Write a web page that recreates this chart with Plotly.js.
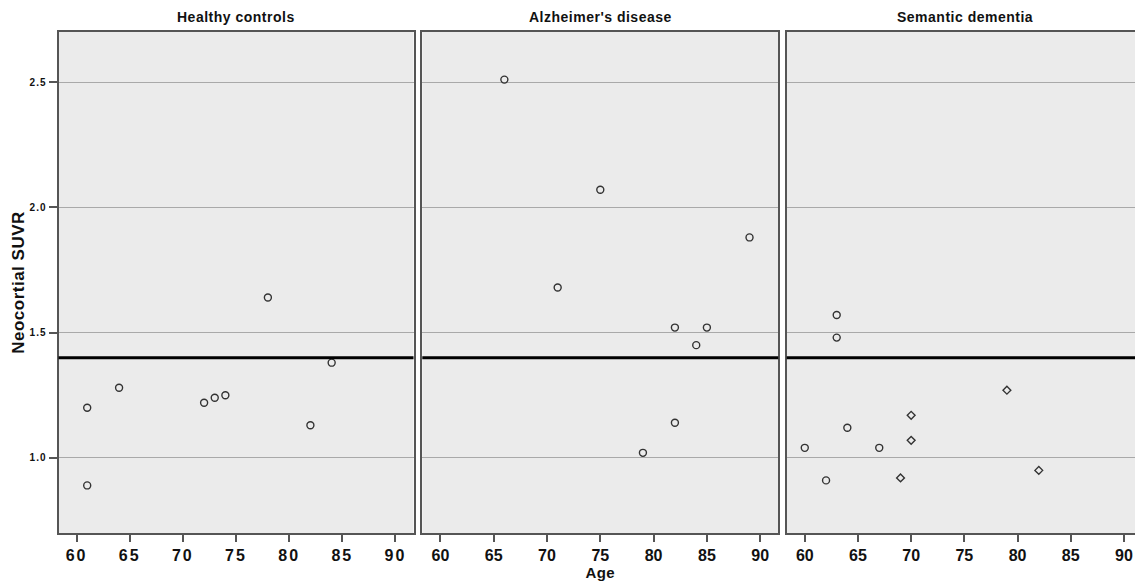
<!DOCTYPE html>
<html>
<head>
<meta charset="utf-8">
<script src="https://cdn.plot.ly/plotly-3.0.1.min.js"></script>
<style>
  html, body { margin: 0; padding: 0; overflow: hidden; background: #ffffff; }
  #chart { width: 1146px; height: 581px; }
  .xtick text { letter-spacing: 2px; }
  .ytick text { letter-spacing: 1px; }
  .g-x2title text, .g-ytitle text, .annotation-text { letter-spacing: 0.5px; }
</style>
</head>
<body>
<div id="chart"></div>
<script>
// ---- data ----
const panelTitles = ["Healthy controls", "Alzheimer's disease", "Semantic dementia"];

const hcAge  = [61, 61, 64, 72, 73, 74, 78, 82, 84];
const hcSuvr = [1.20, 0.89, 1.28, 1.22, 1.24, 1.25, 1.64, 1.13, 1.38];

const adAge  = [66, 75, 89, 71, 82, 85, 84, 82, 79];
const adSuvr = [2.51, 2.07, 1.88, 1.68, 1.52, 1.52, 1.45, 1.14, 1.02];

const sdCircleAge  = [60, 62, 63, 63, 64, 67];
const sdCircleSuvr = [1.04, 0.91, 1.57, 1.48, 1.12, 1.04];
const sdDiamondAge  = [69, 70, 70, 79, 82];
const sdDiamondSuvr = [0.92, 1.07, 1.17, 1.27, 0.95];

const threshold = 1.4;
const xTickVals = [60, 65, 70, 75, 80, 85, 90];
const yTickVals = [1.0, 1.5, 2.0, 2.5];

// ---- styling ----
const W = 1146, H = 581;
const M = {l: 58, r: 4, t: 32, b: 48};
const plotW = W - M.l - M.r;
function dom(px0, px1) { return [(px0 - M.l) / plotW, (px1 - M.l) / plotW]; }

const FONT = '"Liberation Sans", Arial, Helvetica, sans-serif';
const frameColor = '#555555';
const markColor = '#333333';

function circleTrace(x, y, xa, ya, name) {
  return {x: x, y: y, xaxis: xa, yaxis: ya, type: 'scatter', mode: 'markers', name: name,
    marker: {symbol: 'circle-open', size: 7, color: markColor, line: {width: 1.4, color: markColor}},
    showlegend: false, hoverinfo: 'x+y'};
}
function diamondTrace(x, y, xa, ya, name) {
  return {x: x, y: y, xaxis: xa, yaxis: ya, type: 'scatter', mode: 'markers', name: name,
    marker: {symbol: 'diamond-open', size: 6, color: markColor, line: {width: 1.4, color: markColor}},
    showlegend: false, hoverinfo: 'x+y'};
}

const data = [
  circleTrace(hcAge, hcSuvr, 'x', 'y', panelTitles[0]),
  circleTrace(adAge, adSuvr, 'x2', 'y2', panelTitles[1]),
  circleTrace(sdCircleAge, sdCircleSuvr, 'x3', 'y3', panelTitles[2]),
  diamondTrace(sdDiamondAge, sdDiamondSuvr, 'x3', 'y3', panelTitles[2])
];

const xRange = [58.3, 91.7];
const yRange = [0.7, 2.7];

function xAxis(domain, anchor, title) {
  const ax = {
    domain: domain, anchor: anchor, range: xRange, fixedrange: true,
    tickmode: 'array', tickvals: xTickVals, ticktext: xTickVals.map(String),
    ticks: 'outside', ticklen: 7, tickwidth: 2, tickcolor: frameColor,
    tickfont: {family: FONT, size: 16, color: '#111111', weight: 'bold'},
    showgrid: false, zeroline: false,
    showline: true, linecolor: frameColor, linewidth: 2, mirror: true
  };
  if (title) {
    ax.title = {text: title, font: {family: FONT, size: 15, color: '#111111', weight: 'bold'}, standoff: 3};
  }
  return ax;
}
function yAxis(anchor, showLabels) {
  return {
    domain: [0, 1], anchor: anchor, range: yRange, fixedrange: true,
    tickmode: 'array', tickvals: yTickVals, ticktext: yTickVals.map(v => v.toFixed(1)),
    showticklabels: showLabels,
    ticks: showLabels ? 'outside' : '', ticklen: 8, tickwidth: 2, tickcolor: frameColor,
    tickfont: {family: FONT, size: 10, color: '#111111', weight: 'bold'},
    showgrid: true, gridcolor: '#a9a9a9', gridwidth: 1, zeroline: false,
    showline: true, linecolor: frameColor, linewidth: 2, mirror: true
  };
}

const d1 = dom(58.5, 413.5), d2 = dom(422.3, 778.3), d3 = dom(786.7, 1142.5);

const layout = {
  width: W, height: H,
  margin: M,
  paper_bgcolor: '#ffffff',
  plot_bgcolor: '#ebebeb',
  showlegend: false,
  font: {family: FONT, color: '#111111'},
  xaxis: xAxis(d1, 'y', null),
  xaxis2: xAxis(d2, 'y2', 'Age'),
  xaxis3: xAxis(d3, 'y3', null),
  yaxis: Object.assign(yAxis('x', true), {
    title: {text: 'Neocortial SUVR', standoff: 1,
            font: {family: FONT, size: 17, color: '#111111', weight: 'bold'}}
  }),
  yaxis2: yAxis('x2', false),
  yaxis3: yAxis('x3', false),
  shapes: ['x', 'x2', 'x3'].map((xa, i) => ({
    type: 'line', xref: xa + ' domain', yref: ['y', 'y2', 'y3'][i],
    x0: 0, x1: 1, y0: threshold, y1: threshold,
    line: {color: '#000000', width: 3}
  })),
  annotations: panelTitles.map((t, i) => {
    const d = [d1, d2, d3][i];
    return {
      text: t, xref: 'paper', yref: 'paper',
      x: (d[0] + d[1]) / 2, y: 1, xanchor: 'center', yanchor: 'bottom', yshift: 5,
      showarrow: false,
      font: {family: FONT, size: 14, color: '#111111', weight: 'bold'}
    };
  })
};

Plotly.newPlot('chart', data, layout, {displayModeBar: false, staticPlot: true});
</script>
</body>
</html>
